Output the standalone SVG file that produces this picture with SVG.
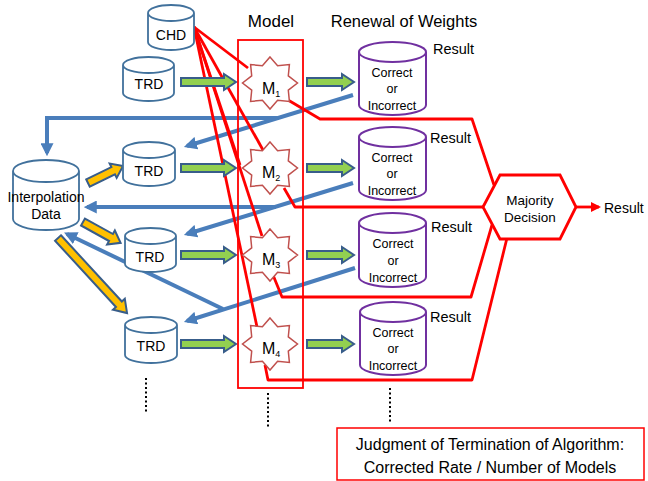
<svg xmlns="http://www.w3.org/2000/svg" width="648" height="481" viewBox="0 0 648 481">
<style>
text{font-family:"Liberation Sans",Arial,sans-serif;fill:#000}
.cyl{fill:#fff;stroke:#41719c;stroke-width:1.8}
.pcyl{fill:#fff;stroke:#7030a0;stroke-width:2}
.star{fill:#fff;stroke:#c0504d;stroke-width:1.5}
.red{fill:none;stroke:#ff0000;stroke-width:2.8;stroke-linejoin:round}
.blue{fill:none;stroke:#4a7ebb;stroke-width:4}
.green{fill:#92d050;stroke:#385d8a;stroke-width:2}
.gold{fill:#ffc000;stroke:#385d8a;stroke-width:2}
.dot{stroke:#000;stroke-width:2;stroke-dasharray:2 2.5}
.lbl{font-size:14.5px}
.ci{font-size:12.5px;text-anchor:middle}
.m{font-size:16px}
</style>
<defs>
<marker id="bh" viewBox="0 0 12 12" markerWidth="13" markerHeight="13" refX="9" refY="6" orient="auto" markerUnits="userSpaceOnUse"><path d="M0,0 L12,6 L0,12 Z" fill="#4a7ebb"/></marker>
<marker id="rh" viewBox="0 0 10 10" markerWidth="10" markerHeight="10" refX="8" refY="5" orient="auto" markerUnits="userSpaceOnUse"><path d="M0,0 L10,5 L0,10 Z" fill="#ff0000"/></marker>
<polygon id="star" points="0,-26 7.6,-17.3 19.4,-18.4 18.3,-7.2 27.5,0 18.3,7.2 19.4,18.4 7.6,17.3 0,26 -7.6,17.3 -19.4,18.4 -18.3,7.2 -27.5,0 -18.3,-7.2 -19.4,-18.4 -7.6,-17.3"/>
<path id="ga1" d="M0,-4 H43 V-8 L55,0 L43,8 V4 H0 Z"/>
<path id="ga2" d="M0,-4 H35 V-8 L47,0 L35,8 V4 H0 Z"/>
</defs>
<rect width="648" height="481" fill="#fff"/>

<g id="headers">
<text x="271" y="27" font-size="17" text-anchor="middle">Model</text>
<text x="404" y="27" font-size="16.5" text-anchor="middle">Renewal of Weights</text>
</g>

<g id="connectors">
<path class="blue" d="M353,95 L187,146" marker-end="url(#bh)"/>
<path class="blue" d="M279,118 H47 V153" marker-end="url(#bh)"/>
<path class="blue" d="M353,183 L187,234" marker-end="url(#bh)"/>
<path class="blue" d="M276,207 H87" marker-end="url(#bh)"/>
<path class="blue" d="M355,268 L187,321" marker-end="url(#bh)"/>
<path class="blue" d="M223,309 L67,234" marker-end="url(#bh)"/>
<path class="red" d="M194,27 L248,68"/>
<path class="red" d="M194,27 L263,150"/>
<path class="red" d="M194,27 L262,236"/>
<path class="red" d="M194,27 L257,327"/>
<path class="red" d="M194,27 L240,165"/>
<path class="red" d="M283,97 L320,119 H472 L494,185"/>
<path class="red" d="M284,188 L295,207 H483"/>
<path class="red" d="M273,275 L282,297 H471 L492,225"/>
<path class="red" d="M265,365 L268,380 H472 L507,238"/>
<path class="red" d="M576,207 H599" stroke-width="2.5" marker-end="url(#rh)"/>
<use href="#ga1" class="green" x="181" y="82"/>
<use href="#ga1" class="green" x="181" y="168"/>
<use href="#ga1" class="green" x="181" y="255"/>
<use href="#ga1" class="green" x="181" y="344"/>
<use href="#ga2" class="green" x="307" y="82"/>
<use href="#ga2" class="green" x="307" y="168"/>
<use href="#ga2" class="green" x="307" y="255"/>
<use href="#ga2" class="green" x="307" y="344"/>
<path class="gold" d="M0,-4 H28 V-8 L39,0 L28,8 V4 H0 Z" transform="translate(88,183) rotate(-26)"/>
<path class="gold" d="M0,-4 H32 V-8 L43,0 L32,8 V4 H0 Z" transform="translate(83,222) rotate(29)"/>
<path class="gold" d="M0,-4 H90 V-8 L102,0 L90,8 V4 H0 Z" transform="translate(58,238) rotate(47.4)"/>
<line class="dot" x1="146" y1="378" x2="146" y2="412"/>
<line class="dot" x1="268" y1="393" x2="268" y2="427"/>
<line class="dot" x1="390" y1="388" x2="390" y2="422"/>
</g>

<g id="model-box"><rect x="238" y="40" width="65" height="348" fill="none" stroke="#ff0000" stroke-width="1.8"/></g>

<g id="chd"><path class="cyl" d="M148,13 a23,8 0 0,1 46,0 V42 a23,8 0 0,1 -46,0 Z M148,13 a23,8 0 0,0 46,0"/><text x="171" y="40" font-size="14" text-anchor="middle">CHD</text></g>

<g id="trd1"><path class="cyl" d="M123,65 a25.5,8 0 0,1 51,0 V93 a25.5,8 0 0,1 -51,0 Z M123,65 a25.5,8 0 0,0 51,0"/><text x="149" y="89" font-size="14" text-anchor="middle">TRD</text></g>
<g id="trd2"><path class="cyl" d="M123,150 a26,8 0 0,1 52,0 V178 a26,8 0 0,1 -52,0 Z M123,150 a26,8 0 0,0 52,0"/><text x="149" y="176" font-size="14" text-anchor="middle">TRD</text></g>
<g id="trd3"><path class="cyl" d="M125,236 a25.5,8 0 0,1 51,0 V264 a25.5,8 0 0,1 -51,0 Z M125,236 a25.5,8 0 0,0 51,0"/><text x="150" y="262" font-size="14" text-anchor="middle">TRD</text></g>
<g id="trd4"><path class="cyl" d="M125,325 a26,8 0 0,1 52,0 V355 a26,8 0 0,1 -52,0 Z M125,325 a26,8 0 0,0 52,0"/><text x="151" y="351" font-size="14" text-anchor="middle">TRD</text></g>

<g id="interp"><path class="cyl" d="M13,171 a33,11 0 0,1 66,0 V219 a33,11 0 0,1 -66,0 Z M13,171 a33,11 0 0,0 66,0"/><text x="46" y="202" font-size="14" text-anchor="middle">Interpolation</text><text x="46" y="219" font-size="14" text-anchor="middle">Data</text></g>

<g id="m1"><use href="#star" class="star" x="270" y="83"/><text class="m" x="262" y="94">M<tspan font-size="9" dy="3">1</tspan></text></g>
<g id="m2"><use href="#star" class="star" x="270" y="168"/><text class="m" x="262" y="178">M<tspan font-size="9" dy="3">2</tspan></text></g>
<g id="m3"><use href="#star" class="star" x="270" y="255"/><text class="m" x="262" y="265">M<tspan font-size="9" dy="3">3</tspan></text></g>
<g id="m4"><use href="#star" class="star" x="270" y="344"/><text class="m" x="262" y="354">M<tspan font-size="9" dy="3">4</tspan></text></g>

<g id="res1"><path class="pcyl" d="M359,52 a33.5,10 0 0,1 67,0 V105 a33.5,10 0 0,1 -67,0 Z M359,52 a33.5,10 0 0,0 67,0"/><text class="ci" x="392" y="77">Correct</text><text class="ci" x="392" y="93">or</text><text class="ci" x="392" y="110">Incorrect</text><text class="lbl" x="433" y="54">Result</text></g>
<g id="res2"><path class="pcyl" d="M359,137 a33.5,10 0 0,1 67,0 V190 a33.5,10 0 0,1 -67,0 Z M359,137 a33.5,10 0 0,0 67,0"/><text class="ci" x="392" y="162">Correct</text><text class="ci" x="392" y="178">or</text><text class="ci" x="392" y="195">Incorrect</text><text class="lbl" x="430" y="143">Result</text></g>
<g id="res3"><path class="pcyl" d="M359,223 a33.5,10 0 0,1 67,0 V277 a33.5,10 0 0,1 -67,0 Z M359,223 a33.5,10 0 0,0 67,0"/><text class="ci" x="393" y="248">Correct</text><text class="ci" x="393" y="265">or</text><text class="ci" x="393" y="282">Incorrect</text><text class="lbl" x="431" y="232">Result</text></g>
<g id="res4"><path class="pcyl" d="M360,312 a33,10 0 0,1 66,0 V365 a33,10 0 0,1 -66,0 Z M360,312 a33,10 0 0,0 66,0"/><text class="ci" x="393" y="337">Correct</text><text class="ci" x="393" y="353">or</text><text class="ci" x="393" y="370">Incorrect</text><text class="lbl" x="430" y="322">Result</text></g>

<g id="majority"><polygon points="483,207 500,175 560,175 576,207 560,239 500,239" fill="#fff" stroke="#ff0000" stroke-width="2.8"/><text x="530" y="205" font-size="13.5" text-anchor="middle">Majority</text><text x="530" y="222" font-size="13.5" text-anchor="middle">Decision</text></g>
<g id="final-result"><text x="604" y="213" font-size="14">Result</text></g>

<g id="judgment"><rect x="337" y="428" width="307" height="52" fill="#fff" stroke="#ff0000" stroke-width="1.5"/><text x="490" y="450" font-size="16" text-anchor="middle">Judgment of Termination of Algorithm:</text><text x="490" y="473" font-size="16" text-anchor="middle">Corrected Rate / Number of Models</text></g>
</svg>
